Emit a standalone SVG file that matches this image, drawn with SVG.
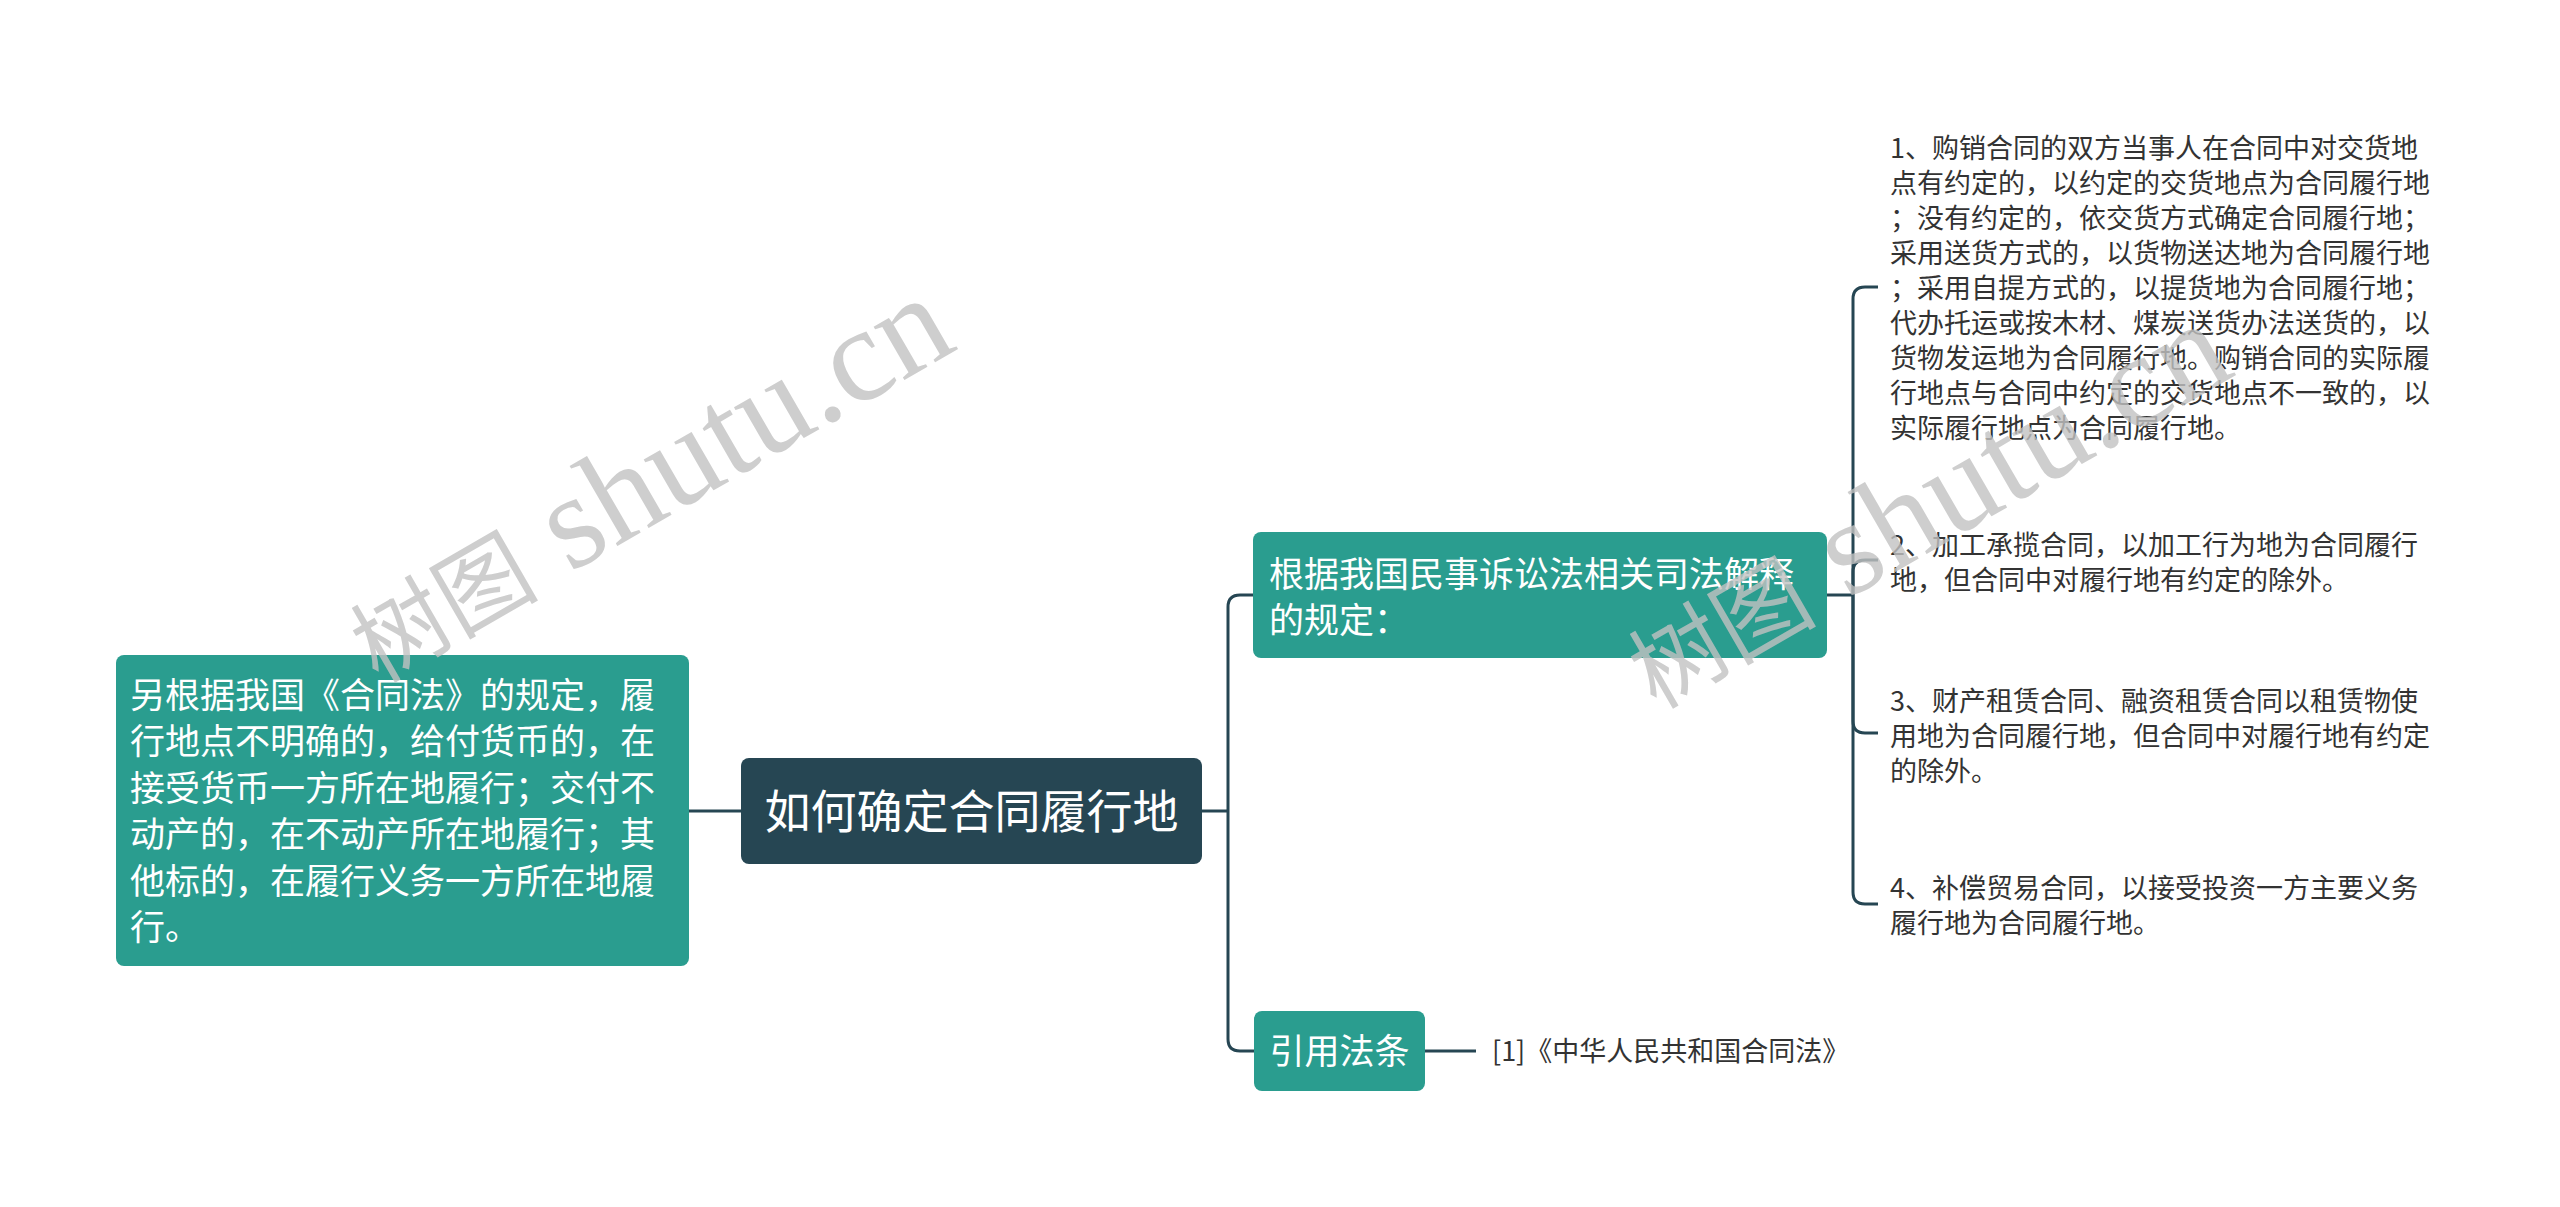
<svg xmlns="http://www.w3.org/2000/svg" width="2560" height="1207" viewBox="0 0 2560 1207">
  <style>
    .teal { fill: #2a9d8f; }
    .dark { fill: #264653; }
    .ntext { font-family: "Noto Sans CJK SC", "Noto Sans", sans-serif; fill: #ffffff; }
    .leaf { font-family: "Noto Sans CJK SC", "Noto Sans", sans-serif; fill: #333333; font-size: 27px; }
    .conn { fill: none; stroke: #264653; stroke-width: 3; }
    .wm { font-family: "Liberation Serif", "Noto Sans CJK SC", serif; fill: #c2c2c2; opacity: 0.8; }
  </style>
  <rect width="2560" height="1207" fill="#ffffff"/>

  <g id="connectors">
    <path class="conn" d="M689 811 H741"/>
    <path class="conn" d="M1202 811 H1228"/>
    <path class="conn" d="M1228 811 V607 Q1228 595 1240 595 H1253"/>
    <path class="conn" d="M1228 811 V1039 Q1228 1051 1240 1051 H1254"/>
    <path class="conn" d="M1827 595 H1853"/>
    <path class="conn" d="M1853 595 V299 Q1853 287 1865 287 H1878"/>
    <path class="conn" d="M1853 595 V572 Q1853 560 1865 560 H1878"/>
    <path class="conn" d="M1853 595 V721 Q1853 733 1865 733 H1878"/>
    <path class="conn" d="M1853 595 V892 Q1853 904 1865 904 H1878"/>
    <path class="conn" d="M1425 1051 H1476"/>
  </g>

  <g id="node-root">
    <rect class="dark" x="741" y="758" width="461" height="106" rx="8"/>
    <text class="ntext" x="971.5" y="828" font-size="46" text-anchor="middle">如何确定合同履行地</text>
  </g>

  <g id="node-left">
    <rect class="teal" x="116" y="655" width="573" height="311" rx="8"/>
    <text class="ntext" font-size="35">
      <tspan x="130" y="708">另根据我国《合同法》的规定，履</tspan>
      <tspan x="130" y="754">行地点不明确的，给付货币的，在</tspan>
      <tspan x="130" y="801">接受货币一方所在地履行；交付不</tspan>
      <tspan x="130" y="847">动产的，在不动产所在地履行；其</tspan>
      <tspan x="130" y="894">他标的，在履行义务一方所在地履</tspan>
      <tspan x="130" y="940">行。</tspan>
    </text>
  </g>

  <g id="node-judicial">
    <rect class="teal" x="1253" y="532" width="574" height="126" rx="8"/>
    <text class="ntext" font-size="35">
      <tspan x="1269" y="587">根据我国民事诉讼法相关司法解释</tspan>
      <tspan x="1269" y="633">的规定：</tspan>
    </text>
  </g>

  <g id="node-leaf1">
    <text class="leaf">
      <tspan x="1890" y="158">1、购销合同的双方当事人在合同中对交货地</tspan>
      <tspan x="1890" y="193">点有约定的，以约定的交货地点为合同履行地</tspan>
      <tspan x="1890" y="228">；没有约定的，依交货方式确定合同履行地；</tspan>
      <tspan x="1890" y="263">采用送货方式的，以货物送达地为合同履行地</tspan>
      <tspan x="1890" y="298">；采用自提方式的，以提货地为合同履行地；</tspan>
      <tspan x="1890" y="333">代办托运或按木材、煤炭送货办法送货的，以</tspan>
      <tspan x="1890" y="368">货物发运地为合同履行地。购销合同的实际履</tspan>
      <tspan x="1890" y="403">行地点与合同中约定的交货地点不一致的，以</tspan>
      <tspan x="1890" y="438">实际履行地点为合同履行地。</tspan>
    </text>
  </g>

  <g id="node-leaf2">
    <text class="leaf">
      <tspan x="1890" y="555">2、加工承揽合同，以加工行为地为合同履行</tspan>
      <tspan x="1890" y="590">地，但合同中对履行地有约定的除外。</tspan>
    </text>
  </g>

  <g id="node-leaf3">
    <text class="leaf">
      <tspan x="1890" y="711">3、财产租赁合同、融资租赁合同以租赁物使</tspan>
      <tspan x="1890" y="746">用地为合同履行地，但合同中对履行地有约定</tspan>
      <tspan x="1890" y="781">的除外。</tspan>
    </text>
  </g>

  <g id="node-leaf4">
    <text class="leaf">
      <tspan x="1890" y="898">4、补偿贸易合同，以接受投资一方主要义务</tspan>
      <tspan x="1890" y="933">履行地为合同履行地。</tspan>
    </text>
  </g>

  <g id="node-cite">
    <rect class="teal" x="1254" y="1011" width="171" height="80" rx="8"/>
    <text class="ntext" x="1339.5" y="1064" font-size="35" text-anchor="middle">引用法条</text>
  </g>

  <g id="node-cite-leaf">
    <text class="leaf" x="1492" y="1061">[1]《中华人民共和国合同法》</text>
  </g>

  <g id="watermark">
    <text class="wm" transform="translate(378 684) rotate(-30)"><tspan font-size="94">树图</tspan><tspan font-size="134"> shutu.cn</tspan></text>
    <text class="wm" transform="translate(1656 710) rotate(-30)"><tspan font-size="94">树图</tspan><tspan font-size="134"> shutu.cn</tspan></text>
  </g>
</svg>
